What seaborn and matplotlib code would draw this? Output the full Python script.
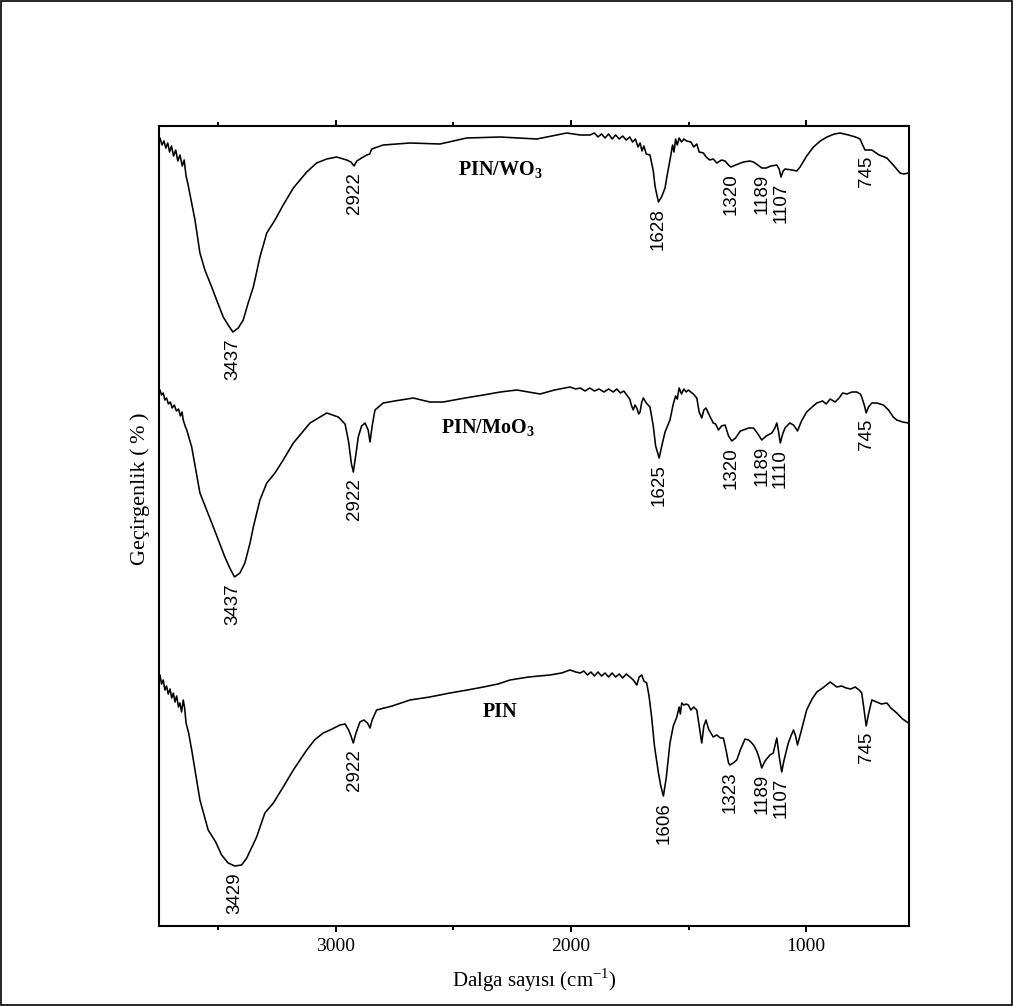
import numpy as np
import pandas as pd
import matplotlib
matplotlib.use("Agg")
import matplotlib.pyplot as plt
import seaborn as sns
from matplotlib.ticker import MultipleLocator
from matplotlib.patches import Rectangle

# ---------------- data (wavenumber cm-1, transmittance a.u., offset traces) -------------
wn_wo3 = [3747, 3738, 3730, 3722, 3714, 3706, 3698, 3689, 3680, 3671, 3662, 3652, 3644, 3636, 3628,
          3612, 3598, 3577, 3556, 3527, 3506, 3478, 3457, 3437, 3414, 3393, 3372, 3350, 3322, 3293,
          3258, 3223, 3180, 3123, 3081, 3038, 2996,
          2953, 2935, 2922, 2910, 2890, 2868, 2855, 2847, 2798, 2684, 2557, 2443, 2301, 2145, 2018,
          1960, 1919, 1900, 1885, 1870, 1855, 1840, 1825, 1810, 1795, 1780, 1765, 1750, 1738, 1726,
          1715, 1706, 1698, 1690, 1680, 1664, 1650, 1642, 1628, 1615, 1600, 1590, 1579, 1568, 1562,
          1555, 1548, 1540, 1530, 1520, 1508, 1490, 1478, 1465, 1455, 1437, 1425, 1410, 1395, 1380,
          1360, 1345, 1330, 1320, 1300, 1267, 1240, 1224, 1200, 1189, 1170, 1150, 1125, 1115, 1107,
          1098, 1090, 1060, 1040, 1026, 998, 969, 940, 912, 880, 856, 820, 790, 771, 760,
          750, 742, 730, 721, 690, 657, 630, 601, 585, 566]
t_wo3 = [788, 781, 785, 778, 783, 774, 780, 770, 776, 765, 771, 760, 766, 750, 742,
         723, 706, 673, 656, 639, 626, 609, 601, 594, 598, 606, 623, 639, 669, 693,
         706, 721, 738, 754, 763, 767, 769,
         766, 764, 760, 765, 768, 771, 772, 777, 781, 783, 782, 788, 789, 787, 793,
         791, 791, 793, 789, 792, 788, 792, 787, 791, 787, 790, 786, 789, 784, 787,
         779, 783, 775, 780, 772, 771, 755, 739, 724, 729, 738, 752, 766, 781, 774,
         787, 781, 788, 784, 787, 785, 784, 779, 782, 774, 773, 769, 766, 767, 763,
         766, 765, 761, 759, 761, 764, 765, 764, 760, 758, 758, 760, 761, 757, 749,
         755, 757, 756, 755, 759, 770, 779, 785, 789, 792, 793, 791, 789, 787, 781,
         776, 776, 776, 776, 771, 768, 761, 753, 752, 753]

wn_moo3 = [3747, 3740, 3733, 3726, 3719, 3711, 3703, 3695, 3686, 3677, 3668, 3660, 3653, 3648, 3640,
           3633, 3612, 3577, 3520, 3471, 3450, 3430, 3407, 3386, 3364, 3350, 3322, 3293, 3258, 3223,
           3180, 3109, 3038,
           2989, 2960, 2945, 2933, 2925, 2915, 2904, 2890, 2875, 2862, 2854, 2845, 2833, 2798, 2750,
           2670, 2600, 2543, 2450, 2372, 2300, 2230, 2180, 2131, 2070, 2004, 1980, 1960, 1940, 1920,
           1900, 1880, 1860, 1840, 1820, 1805, 1790, 1775, 1763, 1750, 1742, 1735, 1728, 1720, 1712,
           1706, 1699, 1692, 1680, 1664, 1650, 1640, 1625, 1612, 1600, 1579, 1565, 1555, 1548, 1540,
           1530, 1520, 1510, 1501, 1480, 1465, 1455, 1444, 1435, 1426, 1410, 1395, 1385, 1373, 1360,
           1345, 1330, 1316, 1300, 1280, 1267, 1245, 1224, 1205, 1189, 1170, 1146, 1133, 1125, 1118,
           1110, 1100, 1090, 1070, 1054, 1037, 1020, 998, 975, 955, 930, 915, 898, 877, 860,
           845, 827, 805, 785, 770, 764, 752, 745, 735, 721, 700, 672, 650, 630, 615,
           590, 566]
t_moo3 = [536, 531, 533, 526, 528, 522, 524, 518, 521, 515, 517, 510, 514, 506, 500,
          496, 479, 433, 399, 369, 358, 349, 353, 363, 383, 399, 426, 443, 453, 466,
          483, 503, 513,
          509, 502, 484, 462, 454, 470, 489, 500, 503, 496, 484, 500, 516, 523, 525,
          528, 524, 524, 528, 531, 534, 536, 534, 532, 536, 539, 537, 538, 535, 538,
          535, 537, 534, 537, 534, 537, 533, 535, 531, 527, 520, 516, 521, 518, 512,
          514, 524, 528, 523, 519, 500, 480, 468, 482, 494, 506, 522, 530, 527, 538,
          532, 537, 534, 536, 532, 528, 514, 508, 516, 518, 510, 503, 502, 496, 500,
          501, 490, 485, 488, 495, 496, 498, 498, 492, 486, 490, 493, 498, 503, 495,
          483, 492, 498, 503, 501, 495, 505, 514, 519, 523, 525, 522, 527, 524, 528,
          533, 532, 534, 534, 532, 529, 520, 513, 519, 523, 523, 521, 516, 509, 506,
          504, 503]

wn_pin = [3747, 3740, 3733, 3726, 3719, 3712, 3704, 3697, 3690, 3683, 3676, 3668, 3662, 3655, 3648,
          3642, 3636, 3625, 3612, 3577, 3542, 3510, 3485, 3457, 3429, 3400, 3378, 3336, 3301, 3265,
          3223, 3180, 3123, 3090, 3053, 3015, 2982, 2960, 2945, 2935, 2925, 2915, 2897, 2880, 2865,
          2854, 2845, 2826, 2760, 2684, 2600, 2514, 2440, 2372, 2310, 2259, 2180, 2089, 2040, 2004,
          1980, 1960, 1945, 1930, 1915, 1900, 1885, 1870, 1855, 1840, 1825, 1810, 1795, 1780, 1765,
          1749, 1735, 1720, 1710, 1699, 1690, 1678, 1668, 1657, 1645, 1628, 1618, 1607, 1595, 1579,
          1565, 1550, 1540, 1535, 1529, 1520, 1510, 1501, 1490, 1478, 1465, 1455, 1444, 1435, 1426,
          1415, 1405, 1395, 1380, 1365, 1352, 1340, 1330, 1324, 1310, 1295, 1280, 1260, 1245, 1235,
          1224, 1210, 1200, 1189, 1175, 1154, 1140, 1125, 1115, 1104, 1095, 1076, 1065, 1054, 1045,
          1037, 1020, 998, 975, 955, 930, 898, 870, 850, 830, 810, 792, 775, 764, 755,
          745, 735, 721, 700, 680, 657, 640, 615, 590, 566]
t_pin = [251, 242, 246, 236, 240, 232, 237, 228, 233, 224, 230, 219, 223, 214, 226,
         218, 203, 193, 176, 126, 96, 84, 71, 63, 60, 61, 68, 89, 113, 123,
         139, 156, 176, 186, 193, 197, 201, 202, 196, 190, 183, 192, 204, 206, 203,
         198, 206, 216, 220, 226, 229, 233, 236, 239, 242, 246, 249, 251, 253, 256,
         254, 253, 255, 251, 254, 250, 254, 250, 253, 249, 253, 249, 252, 248, 252,
         249, 246, 241, 249, 251, 245, 243, 230, 209, 180, 153, 140, 130, 148, 183,
         200, 209, 219, 212, 223, 221, 222, 221, 216, 219, 216, 200, 183, 200, 206,
         197, 193, 189, 191, 188, 188, 175, 163, 161, 163, 166, 176, 187, 186, 184,
         181, 175, 168, 158, 165, 171, 173, 188, 170, 154, 165, 183, 190, 196, 190,
         181, 196, 216, 227, 234, 238, 244, 239, 240, 238, 237, 239, 236, 233, 218,
         200, 212, 226, 224, 222, 223, 218, 213, 207, 203]

sample_names = [r"PIN/WO$_\mathbf{3}$", r"PIN/MoO$_\mathbf{3}$", "PIN"]
peaks_wo3 = [3437, 2922, 1628, 1320, 1189, 1107, 745]
peaks_moo3 = [3437, 2922, 1625, 1320, 1189, 1110, 745]
peaks_pin = [3429, 2922, 1606, 1323, 1189, 1107, 745]
name_pos = [(2301, 756), (2355, 498), (2301, 214)]

# ---------------- style -------------
sns.set_style("ticks")
plt.rcParams["font.family"] = ["Liberation Serif", "DejaVu Serif"]
plt.rcParams["mathtext.fontset"] = "custom"
plt.rcParams["mathtext.rm"] = "Liberation Serif"
plt.rcParams["mathtext.bf"] = "Liberation Serif:bold"
plt.rcParams["text.color"] = "black"
plt.rcParams["axes.labelcolor"] = "black"
plt.rcParams["xtick.color"] = "black"
plt.rcParams["ytick.color"] = "black"

W, H = 1013, 1006
fig = plt.figure(figsize=(W / 100, H / 100), dpi=100)
fig.patch.set_facecolor("white")
ax = fig.add_axes([159 / W, 1 - 926 / H, 750 / W, 800.3 / H])
ax.set_facecolor("none")

series = [(wn_wo3, t_wo3, peaks_wo3), (wn_moo3, t_moo3, peaks_moo3), (wn_pin, t_pin, peaks_pin)]
for (wn, t, peaks), name, (nx, ny) in zip(series, sample_names, name_pos):
    df = pd.DataFrame({"wn": wn, "t": t})
    sns.lineplot(data=df, x="wn", y="t", ax=ax, color="black", lw=1.15,
                 sort=False, estimator=None)
    wn_a = np.array(wn)
    t_a = np.array(t)
    for p in peaks:
        m = np.abs(wn_a - p) <= 15
        ymin = t_a[m].min() if m.any() else np.interp(p, wn_a[::-1], t_a[::-1])
        ax.annotate(str(p), xy=(p, ymin), xytext=(0, -6), textcoords="offset pixels",
                    rotation=90, ha="center", va="top", fontsize=13.5,
                    family="Liberation Sans", color="black")
    ax.text(nx, ny, name, ha="center", va="center", fontsize=14.5, fontweight="bold",
            color="black")

ax.set_xlim(3751, 563)
ax.set_ylim(0, 800.3)
ax.set_yticks([])
ax.xaxis.set_major_locator(MultipleLocator(1000))
ax.xaxis.set_minor_locator(MultipleLocator(500))
ax.tick_params(axis="x", which="both", direction="out", top=True, labeltop=False,
               width=1.4, labelsize=14, pad=4, colors="black")
ax.tick_params(axis="x", which="major", length=4.5)
ax.tick_params(axis="x", which="minor", length=3)
for s in ax.spines.values():
    s.set_linewidth(1.5)
    s.set_color("black")

ax.set_xlabel("Dalga sayısı (cm$^{-1}$)", fontsize=15, labelpad=8.5, color="black")
ax.set_ylabel("Geçirgenlik (\u2009%\u2009)", fontsize=16, color="black")
ax.yaxis.set_label_coords(-0.012, 0.546)

fig.patches.append(Rectangle((0.001, 0.001), 0.998, 0.998, transform=fig.transFigure,
                             fill=False, ec="black", lw=1.2, zorder=10))

fig.savefig("out.png", dpi=100, facecolor="white")
